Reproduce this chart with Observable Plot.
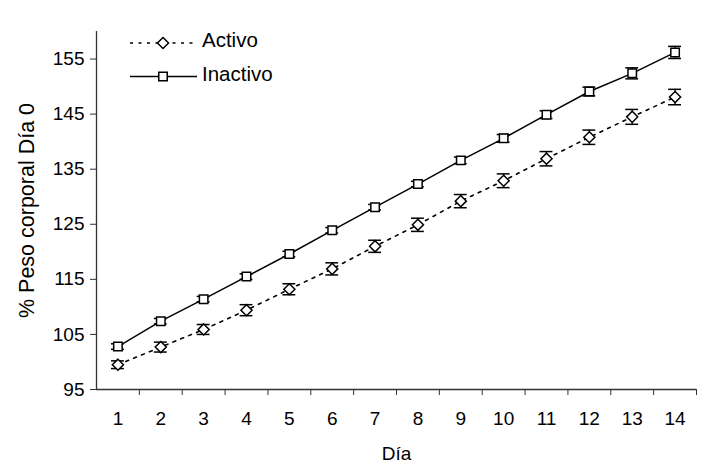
<!DOCTYPE html>
<html>
<head>
<meta charset="utf-8">
<script src="https://cdn.jsdelivr.net/npm/d3@7"></script>
<script src="https://cdn.jsdelivr.net/npm/@observablehq/plot@0.6"></script>
<style>
  body { margin: 0; background: #fff; }
  #chart { position: relative; width: 724px; height: 465px; font-family: "Liberation Sans", Arial, sans-serif; }
  #legend { position: absolute; left: 0; top: 0; }
</style>
</head>
<body>
<div id="chart"></div>
<script>
// Body weight (% of day 0) by day, mean ± SE for each group
const days = [1, 2, 3, 4, 5, 6, 7, 8, 9, 10, 11, 12, 13, 14];
const activo =     [99.5, 102.7, 105.9, 109.4, 113.2, 116.9, 121.0, 124.9, 129.2, 132.9, 136.9, 140.8, 144.5, 148.1];
const activoSE =   [0.7, 0.9, 0.9, 1.0, 1.0, 1.1, 1.1, 1.2, 1.2, 1.25, 1.3, 1.3, 1.35, 1.4];
const inactivo =   [102.8, 107.4, 111.4, 115.5, 119.6, 123.9, 128.1, 132.3, 136.6, 140.6, 144.9, 149.1, 152.4, 156.2];
const inactivoSE = [0.5, 0.5, 0.5, 0.5, 0.5, 0.5, 0.5, 0.5, 0.6, 0.7, 0.7, 0.8, 1.0, 1.1];
const yTicks = [95, 105, 115, 125, 135, 145, 155];
const seriesNames = ["Activo", "Inactivo"];
const yTitle = "% Peso corporal Día 0";
const xTitle = "Día";

const activoRows = days.map((d, i) => ({day: d, v: activo[i], se: activoSE[i]}));
const inactivoRows = days.map((d, i) => ({day: d, v: inactivo[i], se: inactivoSE[i]}));
const allRows = [...activoRows, ...inactivoRows];

const capHalf = 0.15;
const font = "Liberation Sans, Arial, sans-serif";

const chart = Plot.plot({
  width: 724,
  height: 465,
  marginLeft: 96,
  marginRight: 28,
  marginTop: 31,
  marginBottom: 76,
  style: {fontFamily: font, fontSize: "19px", color: "#000", background: "#fff"},
  x: {type: "linear", domain: [0.5, 14.5]},
  y: {domain: [95, 160]},
  marks: [
    // axis lines
    Plot.ruleX([0.5], {stroke: "#333", strokeWidth: 1.3}),
    Plot.ruleY([95], {stroke: "#333", strokeWidth: 1.3}),
    Plot.axisY({ticks: yTicks, tickSize: 6, tickPadding: 6, label: null, stroke: "#333"}),
    // category-edge ticks on the x axis, labels centred on each day
    Plot.axisX({ticks: days.map(d => d + 0.5), tickSize: 6, tickFormat: () => "", label: null, stroke: "#333"}),
    Plot.axisX({ticks: days, tickSize: 0, tickPadding: 22, label: null}),
    // series lines
    Plot.line(activoRows, {x: "day", y: "v", stroke: "#000", strokeWidth: 1.6, strokeDasharray: "3,5.5"}),
    Plot.line(inactivoRows, {x: "day", y: "v", stroke: "#000", strokeWidth: 1.5}),
    // error bars with caps
    Plot.ruleX(allRows, {x: "day", y1: d => d.v - d.se, y2: d => d.v + d.se, stroke: "#000", strokeWidth: 1.3}),
    Plot.ruleY(allRows, {y: d => d.v + d.se, x1: d => d.day - capHalf, x2: d => d.day + capHalf, stroke: "#000", strokeWidth: 1.5}),
    Plot.ruleY(allRows, {y: d => d.v - d.se, x1: d => d.day - capHalf, x2: d => d.day + capHalf, stroke: "#000", strokeWidth: 1.5}),
    // markers
    Plot.dot(activoRows, {x: "day", y: "v", symbol: "diamond2", r: 5, fill: "#fff", stroke: "#000", strokeWidth: 1.5}),
    Plot.dot(inactivoRows, {x: "day", y: "v", symbol: "square2", r: 5.4, fill: "#fff", stroke: "#000", strokeWidth: 1.5}),
    // axis titles
    Plot.text([yTitle], {frameAnchor: "left", dx: -69, rotate: -90, textAnchor: "middle", lineAnchor: "middle", fontSize: 21.5, fill: "#000"}),
    Plot.text([xTitle], {frameAnchor: "bottom", dy: 64, textAnchor: "middle", lineAnchor: "middle", fontSize: 19, fill: "#000"})
  ]
});

const root = document.getElementById("chart");
root.appendChild(chart);

// Legend in the upper-left corner of the plot area
const ns = "http://www.w3.org/2000/svg";
const leg = document.createElementNS(ns, "svg");
leg.setAttribute("id", "legend");
leg.setAttribute("width", 300);
leg.setAttribute("height", 100);
const entries = [
  {name: seriesNames[0], y: 43, dash: "3,5.5", symbol: d3.symbolDiamond2, size: Math.PI * 5 * 5, ty: 47},
  {name: seriesNames[1], y: 76.5, dash: null, symbol: d3.symbolSquare2, size: Math.PI * 5.4 * 5.4, ty: 80.5}
];
for (const e of entries) {
  const line = document.createElementNS(ns, "line");
  line.setAttribute("x1", 130); line.setAttribute("x2", 197);
  line.setAttribute("y1", e.y); line.setAttribute("y2", e.y);
  line.setAttribute("stroke", "#000");
  line.setAttribute("stroke-width", e.dash ? 1.6 : 1.5);
  if (e.dash) line.setAttribute("stroke-dasharray", e.dash);
  leg.appendChild(line);
  const sym = document.createElementNS(ns, "path");
  sym.setAttribute("d", d3.symbol(e.symbol, e.size)());
  sym.setAttribute("transform", `translate(163,${e.y})`);
  sym.setAttribute("fill", "#fff");
  sym.setAttribute("stroke", "#000");
  sym.setAttribute("stroke-width", 1.5);
  leg.appendChild(sym);
  const t = document.createElementNS(ns, "text");
  t.setAttribute("x", 202); t.setAttribute("y", e.ty);
  t.setAttribute("font-family", font);
  t.setAttribute("font-size", 20.5);
  t.setAttribute("fill", "#000");
  t.textContent = e.name;
  leg.appendChild(t);
}
root.appendChild(leg);
</script>
</body>
</html>
